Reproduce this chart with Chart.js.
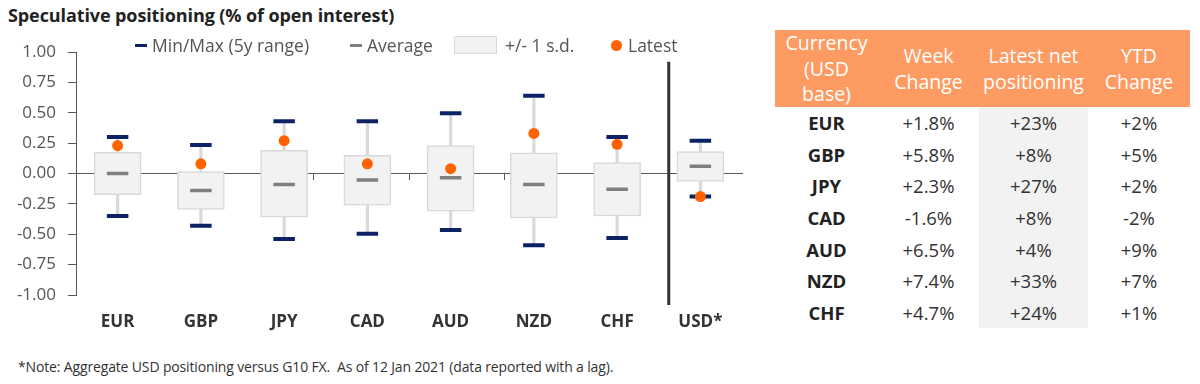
<!DOCTYPE html>
<html>
<head>
<meta charset="utf-8">
<script src="https://cdn.jsdelivr.net/npm/chart.js@4/dist/chart.umd.min.js"></script>
<style>
  html, body { margin:0; padding:0; background:#fff; }
  body { width:1200px; height:384px; position:relative; overflow:hidden; font-family:"Open Sans", "Noto Sans", sans-serif; color:#333; }
  #title { position:absolute; left:8px; top:3px; font-weight:700; font-size:18px; color:#222; letter-spacing:-0.1px; white-space:nowrap; }
  #chartWrap { position:absolute; left:0; top:0; width:760px; height:340px; }
  #legend { position:absolute; top:33px; left:0; height:24px; font-size:17.5px; color:#555; white-space:nowrap; }
  .li { position:absolute; top:0; line-height:24px; }
  .dash { position:absolute; top:11px; width:12px; height:3px; }
  .sw { position:absolute; top:3px; width:41px; height:16px; background:#f2f2f2; border:1px solid #d9d9d9; }
  .dot { position:absolute; top:7px; width:11px; height:11px; border-radius:50%; background:#ff6200; }
  #tbl { position:absolute; left:775px; top:30px; width:415px; border-collapse:collapse; font-size:18.5px; }
  #tbl th { background:#fd9b63; color:#fff; font-weight:400; line-height:25.5px; height:77px; padding:0; text-align:center; font-size:19.5px; }
  #tbl td { text-align:center; height:31.6px; padding:0; color:#333; }
  #tbl td.cur { font-weight:700; color:#222; }
  #tbl td.hl { background:#f2f2f2; }
  #note { position:absolute; left:18px; top:357px; font-size:14px; color:#333; white-space:nowrap; letter-spacing:-0.15px; }
</style>
</head>
<body>
<div id="title">Speculative positioning (% of open interest)</div>
<div id="chartWrap"><canvas id="c" width="760" height="340"></canvas></div>
<div id="legend"></div>
<table id="tbl"></table>
<div id="note">*Note: Aggregate USD positioning versus G10 FX.&nbsp; As of 12 Jan 2021 (data reported with a lag).</div>
<script>
// ---- chart data ----
const categories = ['EUR','GBP','JPY','CAD','AUD','NZD','CHF','USD*'];
const maxVals    = [0.30, 0.235, 0.43, 0.43, 0.495, 0.64, 0.30, 0.27];
const minVals    = [-0.35, -0.43, -0.54, -0.495, -0.465, -0.59, -0.53, -0.19];
const sdHigh     = [0.175, 0.015, 0.19, 0.15, 0.23, 0.17, 0.09, 0.18];
const sdLow      = [-0.175, -0.295, -0.36, -0.26, -0.31, -0.366, -0.35, -0.065];
const avgVals    = [0.00, -0.14, -0.09, -0.053, -0.035, -0.09, -0.13, 0.06];
const latestVals = [0.23, 0.08, 0.27, 0.08, 0.04, 0.33, 0.24, -0.19];
const yTicks     = [1.00, 0.75, 0.50, 0.25, 0.00, -0.25, -0.50, -0.75, -1.00];

// ---- table data ----
const tableHeaders   = ['Currency<br>(USD<br>base)', 'Week<br>Change', 'Latest net<br>positioning', 'YTD<br>Change'];
const tableCurrency  = ['EUR','GBP','JPY','CAD','AUD','NZD','CHF'];
const weekChange     = ['+1.8%','+5.8%','+2.3%','-1.6%','+6.5%','+7.4%','+4.7%'];
const latestNet      = ['+23%','+8%','+27%','+8%','+4%','+33%','+24%'];
const ytdChange      = ['+2%','+5%','+2%','-2%','+9%','+7%','+1%'];

// ---- legend ----
const legendItems = [
  {kind:'dash', color:'#0b2265', text:'Min/Max (5y range)', x:135},
  {kind:'dash', color:'#7f7f7f', text:'Average', x:350},
  {kind:'box',  text:'+/- 1 s.d.', x:454},
  {kind:'dot',  text:'Latest', x:611}
];
const lg = document.getElementById('legend');
legendItems.forEach(it => {
  const d = document.createElement('div');
  d.className = 'li';
  d.style.left = it.x + 'px';
  let mark = '', off = 0;
  if (it.kind === 'dash') { mark = `<span class="dash" style="left:0;background:${it.color}"></span>`; off = 17; }
  if (it.kind === 'box')  { mark = `<span class="sw" style="left:0"></span>`; off = 51; }
  if (it.kind === 'dot')  { mark = `<span class="dot" style="left:0"></span>`; off = 17; }
  d.innerHTML = mark + `<span style="position:absolute;left:${off}px;top:0">${it.text}</span>`;
  lg.appendChild(d);
});

// ---- table ----
const tbl = document.getElementById('tbl');
let html = '<colgroup><col style="width:103px"><col style="width:101px"><col style="width:109px"><col style="width:102px"></colgroup>';
html += '<tr>' + tableHeaders.map(h => `<th>${h}</th>`).join('') + '</tr>';
tableCurrency.forEach((c, i) => {
  html += `<tr><td class="cur">${c}</td><td>${weekChange[i]}</td><td class="hl">${latestNet[i]}</td><td>${ytdChange[i]}</td></tr>`;
});
tbl.innerHTML = html;

// ---- chart ----
const separator = {
  id: 'separator',
  afterDatasetsDraw(chart) {
    const xs = chart.scales.x, ys = chart.scales.y, ctx = chart.ctx;
    const x = (xs.getPixelForValue(6) + xs.getPixelForValue(7)) / 2 + 10;
    ctx.save();
    ctx.strokeStyle = '#333';
    ctx.lineWidth = 3;
    ctx.beginPath();
    ctx.moveTo(x, ys.getPixelForValue(0.92));
    ctx.lineTo(x, chart.chartArea.bottom + 10);
    ctx.stroke();
    ctx.restore();
  }
};

const fontFam = '"Open Sans", "Noto Sans", sans-serif';
new Chart(document.getElementById('c'), {
  data: {
    labels: categories,
    datasets: [
      { type:'line', label:'Latest', data: latestVals, showLine:false, pointStyle:'circle', pointRadius:5.5, pointBackgroundColor:'#ff6200', pointBorderWidth:0, order:0 },
      { type:'line', label:'Max', data: maxVals, showLine:false, pointStyle:'line', pointRadius:10.75, pointBorderColor:'#0b2265', pointBorderWidth:4, order:1 },
      { type:'line', label:'Min', data: minVals, showLine:false, pointStyle:'line', pointRadius:10.75, pointBorderColor:'#0b2265', pointBorderWidth:4, order:1 },
      { type:'line', label:'Average', data: avgVals, showLine:false, pointStyle:'line', pointRadius:10.75, pointBorderColor:'#7f7f7f', pointBorderWidth:3.5, order:2 },
      { type:'bar', label:'+/- 1 s.d.', data: sdLow.map((v,i)=>[v, sdHigh[i]]), backgroundColor:'#f2f2f2', borderColor:'#d9d9d9', borderWidth:1.5, borderSkipped:false, barThickness:47, grouped:false, order:3 },
      { type:'bar', label:'Range', data: minVals.map((v,i)=>[v, maxVals[i]]), backgroundColor:'#d9d9d9', borderWidth:0, barThickness:2.5, grouped:false, order:4 }
    ]
  },
  options: {
    responsive:false,
    animation:false,
    layout: { padding: { top:52, right:18, left:0, bottom:0 } },
    plugins: { legend:{display:false}, tooltip:{enabled:false} },
    scales: {
      x: {
        type:'category',
        grid:{ display:false, drawTicks:false },
        border:{ display:false },
        ticks:{ padding:17, color:'#333', font:{ family:fontFam, size:17, weight:'bold' } },
        afterFit(s){ s.height = 45; }
      },
      x2: {
        type:'category', axis:'x', labels: categories,
        position:{ y:0 },
        grid:{ offset:true, drawOnChartArea:false, drawTicks:true, tickLength:6, color:'#595959', lineWidth:1 },
        border:{ display:true, color:'#595959', width:1 },
        ticks:{ display:false }
      },
      y: {
        min:-1, max:1,
        afterBuildTicks(s){ s.ticks = yTicks.map(v => ({value:v})); },
        grid:{ drawOnChartArea:false, drawTicks:true, tickLength:8, color:'#595959' },
        border:{ display:true, color:'#595959', width:1 },
        ticks:{ padding:12, color:'#555', font:{ family:fontFam, size:17 }, callback:(v)=>Number(v).toFixed(2) },
        afterFit(s){ s.width = 76; }
      }
    }
  },
  plugins:[separator]
});
</script>
</body>
</html>
